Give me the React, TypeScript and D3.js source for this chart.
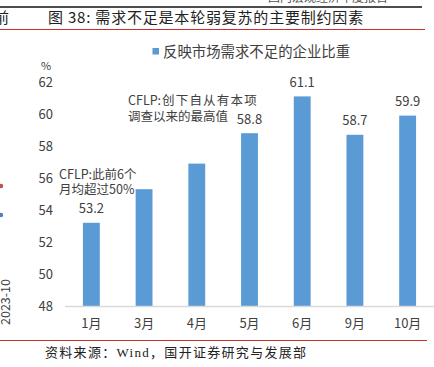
import React from "react";
import * as d3 from "d3";

const categories = ["1月", "3月", "4月", "5月", "6月", "9月", "10月"];
const values = [53.2, 55.3, 56.9, 58.8, 61.1, 58.7, 59.9];
const labeled = [true, false, false, true, true, true, true];
const yTicks = [48, 50, 52, 54, 56, 58, 60, 62];
const seriesName = "反映市场需求不足的企业比重";
const title = "图 38: 需求不足是本轮弱复苏的主要制约因素";
const source = "资料来源：Wind，国开证券研究与发展部";
const note1 = ["CFLP:此前6个", "月均超过50%"];
const note2a = "CFLP:";
const note2b = ["创", "下", "自", "从", "有", "本", "项"];
const note2c = "调查以来的最高值";

const W = 434;
const H = 367;
const FONT = "'Noto Sans CJK SC', 'Noto Sans', sans-serif";
const SERIF = "'Liberation Serif', 'Noto Sans CJK SC', serif";

export default function App() {
  const x = d3
    .scaleBand<string>()
    .domain(categories)
    .range([65, 434])
    .paddingInner(0.68)
    .paddingOuter(0.34);
  const y = d3.scaleLinear().domain([48, 62]).range([306, 82]);
  const txt = "#404040";

  return (
    <svg
      width={W}
      height={H}
      style={{ position: "absolute", left: 0, top: 0, background: "#fff" }}
      fontFamily={FONT}
    >
      <rect width={W} height={H} fill="#fff" />
      {/* page header fragments */}
      <text x={268} y={2} fontSize={12} fill="#555" fontFamily={SERIF}>
        国内宏观经济年度报告
      </text>
      <line x1={0} x2={422} y1={7} y2={7} stroke="#111" strokeWidth={1.5} />
      <text x={9} y={23} fontSize={15} fill="#222" textAnchor="end">
        前
      </text>
      <text x={48} y={23} fontSize={15} fill="#222" letterSpacing={0.8}>
        {title}
      </text>
      <line x1={0} x2={425} y1={29.5} y2={29.5} stroke="#C9302C" strokeWidth={1} />

      {/* left neighbour fragments */}
      <circle cx={1} cy={186} r={2.2} fill="#C0504D" />
      <circle cx={1} cy={215} r={2.2} fill="#4F81BD" />
      <text
        transform="translate(10,302) rotate(-90)"
        fontSize={12.5}
        fill={txt}
        textAnchor="middle"
      >
        2023-10
      </text>

      {/* legend */}
      <rect x={152.5} y={48} width={6.5} height={6.5} fill="#5B9BD5" />
      <text x={163} y={57} fontSize={14.4} fill={txt}>
        {seriesName}
      </text>

      {/* y axis labels */}
      <text x={46} y={70} fontSize={11} fill={txt} textAnchor="middle">
        %
      </text>
      {yTicks.map((t) => (
        <text
          key={t}
          x={53}
          y={y(t)}
          dy="0.36em"
          fontSize={13}
          fill={txt}
          textAnchor="end"
        >
          {t}
        </text>
      ))}

      {/* bars */}
      {categories.map((c, i) => (
        <rect
          key={c}
          x={x(c)}
          y={y(values[i])}
          width={x.bandwidth()}
          height={y(48) - y(values[i])}
          fill="#5B9BD5"
        />
      ))}
      {categories.map((c, i) =>
        labeled[i] ? (
          <text
            key={"l" + c}
            x={(x(c) as number) + x.bandwidth() / 2}
            y={y(values[i]) - 9.5}
            fontSize={13}
            fill={txt}
            textAnchor="middle"
          >
            {values[i].toFixed(1)}
          </text>
        ) : null
      )}

      {/* x axis */}
      <line x1={65} x2={434} y1={306.5} y2={306.5} stroke="#D9D9D9" strokeWidth={1.5} />
      {categories.map((c) => (
        <text
          key={"c" + c}
          x={(x(c) as number) + x.bandwidth() / 2}
          y={328}
          fontSize={13}
          fill={txt}
          textAnchor="middle"
        >
          {c}
        </text>
      ))}

      {/* annotations */}
      {note1.map((s, i) => (
        <text key={s} x={59} y={179 + i * 15} fontSize={12.5} fill={txt}>
          {s}
        </text>
      ))}
      <text x={128} y={105} fontSize={12.5} fill={txt}>
        {note2a}
      </text>
      {note2b.map((ch, i) => (
        <text key={i} x={162 + i * 13.7} y={105} fontSize={12.5} fill={txt}>
          {ch}
        </text>
      ))}
      <text x={128} y={120.5} fontSize={12.5} fill={txt}>
        {note2c}
      </text>

      {/* footer */}
      <line x1={0} x2={427} y1={340.5} y2={340.5} stroke="#C9302C" strokeWidth={1} />
      <text
        x={45}
        y={357}
        fontSize={13}
        fill="#222"
        fontFamily={SERIF}
        letterSpacing={1.3}
      >
        {source}
      </text>
    </svg>
  );
}
